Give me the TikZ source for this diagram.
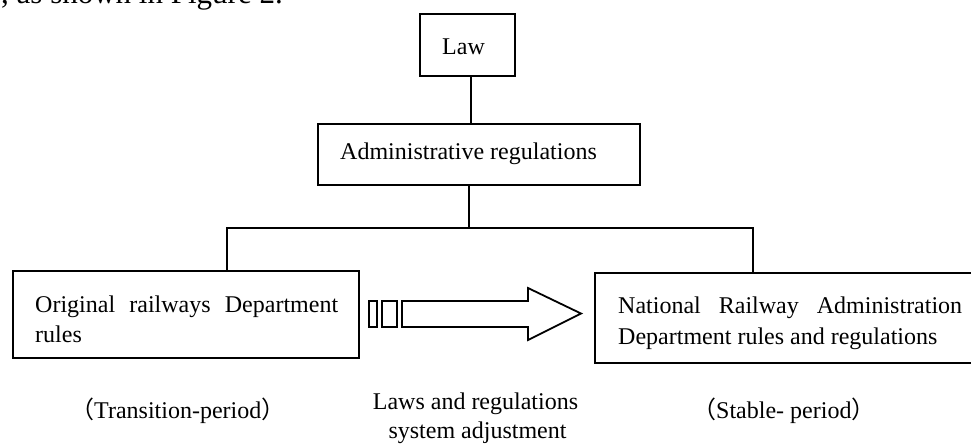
\documentclass[tikz,border=0pt]{standalone}
\usepackage{fontspec}
\setmainfont{Liberation Serif}
\newfontfamily\cjk{Noto Sans CJK SC}
\tikzset{
  boxnode/.style={draw, line width=2pt, rectangle, inner sep=0pt},
  txt/.style={inner sep=0pt, anchor=base west, font=\fontsize{24}{30}\selectfont},
  txtc/.style={inner sep=0pt, anchor=base, font=\fontsize{24}{30}\selectfont},
  conn/.style={line width=1.4pt},
  arrowpart/.style={draw, line width=1.8pt, line join=miter}
}
\begin{document}
\begin{tikzpicture}[x=1pt,y=-1pt]
\useasboundingbox (0,0) rectangle (971,445);
\clip (0,0) rectangle (971,445);
% top body-text fragment
\node[inner sep=0pt, anchor=base west, font=\fontsize{31}{36}\selectfont] (fig) at (1,3) {, as shown in Figure 2.};
% boxes
\node[boxnode, minimum width=95pt, minimum height=62pt] (law) at (467.5,45) {};
\node[boxnode, minimum width=322pt, minimum height=61pt] (adm) at (479,154.5) {};
\node[boxnode, minimum width=346pt, minimum height=87pt] (left) at (186,314.5) {};
\node[boxnode, minimum width=390pt, minimum height=90pt] (right) at (790,318) {};
% texts
\node[txt] (tlaw) at (442,54) {Law};
\node[txt] (tadm) at (340,159) {Administrative regulations};
\node[txt] (tl1) at (35,312) {\hbox to 303pt{Original\hfil railways\hfil Department}};
\node[txt] (tl2) at (35,342) {rules};
\node[txt] (tr1) at (618,313) {\hbox to 344pt{National\hfil Railway\hfil Administration}};
\node[txt] (tr2) at (618,344) {Department rules and regulations};
\node[txt] (ctrans) at (70,418) {{\cjk （}Transition-period{\cjk ）}};
\node[txt] (cstable) at (692,418) {{\cjk （}Stable- period{\cjk ）}};
\node[txtc] (cmid1) at (475.5,409) {Laws and regulations};
\node[txtc] (cmid2) at (477.5,438) {system adjustment};
% connectors
\coordinate (jm) at (469,228);
\coordinate (jl) at (227,228);
\coordinate (jr) at (753,228);
\draw[conn] (law.south -| 471,0) -- (adm.north -| 471,0);
\draw[conn] (adm.south -| jm) -- (jm);
\draw[conn] (jl |- left.north) -- (jl) -- (jr) -- (jr |- right.north);
% transition arrow
\draw[arrowpart] (369,301) rectangle (377,327);
\draw[arrowpart] (382,301) rectangle (397,327);
\draw[arrowpart] (402,301) -- (528,301) -- (528,288) -- (581,313.5) -- (528,340) -- (528,327) -- (402,327) -- cycle;
\end{tikzpicture}
\end{document}
